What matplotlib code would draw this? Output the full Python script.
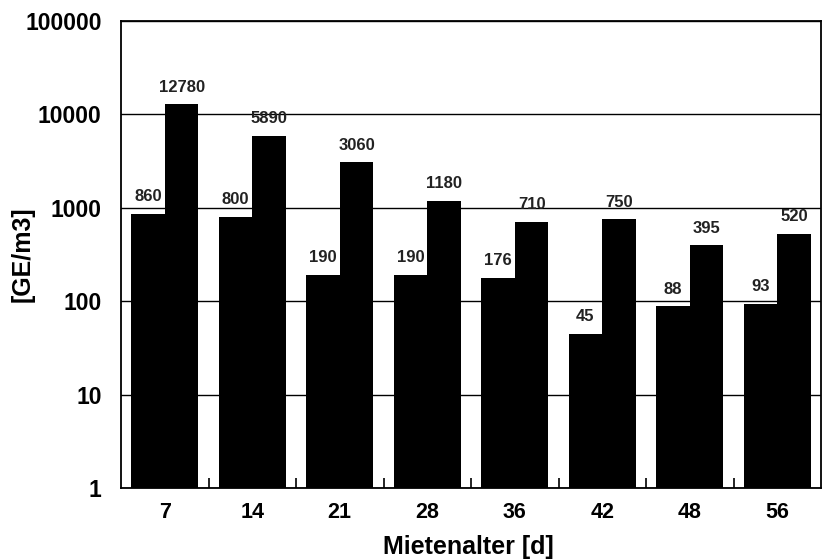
import matplotlib
matplotlib.use("Agg")
import matplotlib.pyplot as plt
import numpy as np

plt.rcParams['font.family'] = ['Liberation Sans', 'DejaVu Sans']
plt.rcParams['font.weight'] = 'bold'

ages = ['7', '14', '21', '28', '36', '42', '48', '56']
series_a = [860, 800, 190, 190, 176, 45, 88, 93]
series_b = [12780, 5890, 3060, 1180, 710, 750, 395, 520]

fig = plt.figure(figsize=(8.22, 5.6), dpi=100)
ax = fig.add_axes([121 / 822, 72 / 560, 700 / 822, 467 / 560])

x = np.arange(len(ages))
w = 0.385
bars_a = ax.bar(x - w / 2, series_a, w, color='black', zorder=3)
bars_b = ax.bar(x + w / 2, series_b, w, color='black', zorder=3)

ax.set_yscale('log')
ax.set_ylim(1, 100000)
ax.set_xlim(-0.5, len(ages) - 0.5)
ax.set_yticks([1, 10, 100, 1000, 10000, 100000])
ax.set_yticklabels(['1', '10', '100', '1000', '10000', '100000'])
ax.yaxis.set_minor_locator(matplotlib.ticker.NullLocator())
ax.tick_params(axis='y', length=0, pad=14, labelsize=16.5)

ax.set_xticks(x)
ax.set_xticklabels(ages)
ax.set_xticks(x[:-1] + 0.5, minor=True)
ax.tick_params(axis='x', which='major', length=0, pad=10, labelsize=15.5)
ax.tick_params(axis='x', which='minor', direction='in', length=7.5, width=1.2)

ax.grid(axis='y', which='major', color='black', linewidth=1.0, zorder=1)
for s in ax.spines.values():
    s.set_linewidth(1.3)

for bars, vals in ((bars_a, series_a), (bars_b, series_b)):
    for b, v in zip(bars, vals):
        ax.annotate(str(v), (b.get_x() + b.get_width() / 2, v),
                    xytext=(0, 12.5), textcoords='offset points',
                    ha='center', va='center', fontsize=12,
                    fontweight='bold', color='#222222', zorder=4)

# axis titles placed in figure coordinates
fig.text(468 / 822, 1 - 547 / 560, 'Mietenalter [d]', fontsize=18,
         fontweight='bold', ha='center', va='center')
fig.text(23 / 822, 1 - 254 / 560, '[GE/m3]', fontsize=18, rotation=90,
         fontweight='bold', ha='center', va='center')

fig.savefig('out.png', dpi=100)
